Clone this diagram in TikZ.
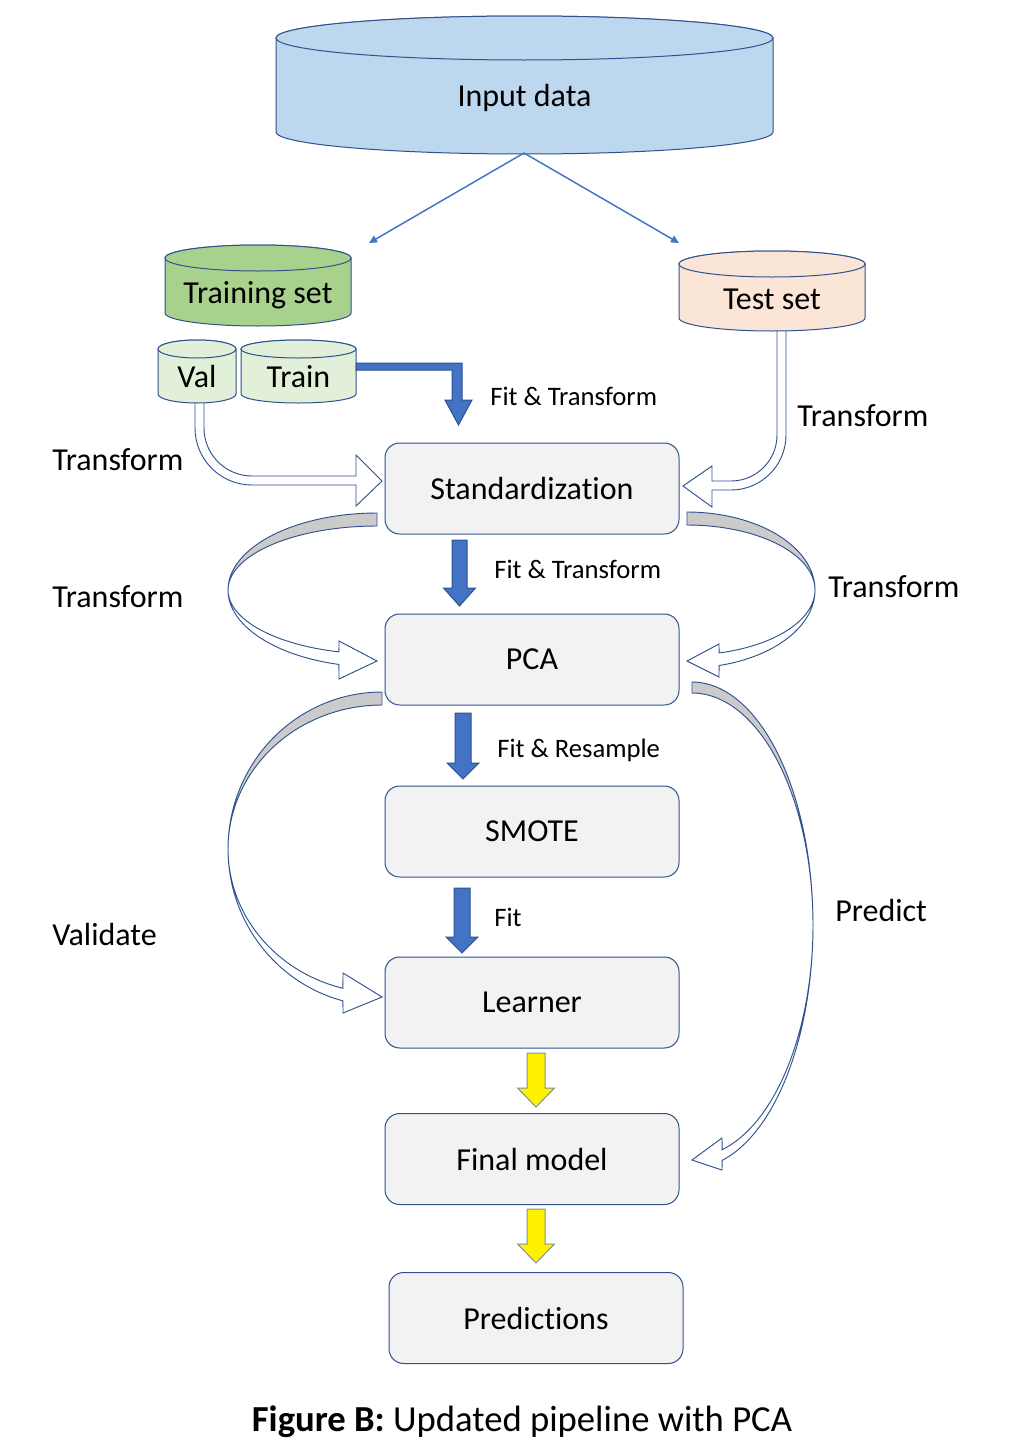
\documentclass[tikz,border=0pt]{standalone}
\usepackage{fontspec}
\setmainfont[Ligatures={NoCommon,NoContextual}]{Carlito}
\usetikzlibrary{arrows.meta}
\definecolor{inputfill}{HTML}{BDD7EE}
\definecolor{trainfill}{HTML}{A9D18E}
\definecolor{testfill}{HTML}{FBE5D6}
\definecolor{subfill}{HTML}{E2F0D9}
\definecolor{boxfill}{HTML}{F2F2F2}
\definecolor{outl}{HTML}{2F528F}
\definecolor{arrblue}{HTML}{4472C4}
\definecolor{bandgray}{HTML}{CBCBCB}
\definecolor{yelborder}{HTML}{7F8FA6}
\newcommand\cylshape[6]{%
  \filldraw[#1] (#2,#4) -- (#2,#5) arc[start angle=180,end angle=360,x radius={(#3-#2)*0.375pt},y radius={#6*0.75pt}] -- (#3,#4) arc[start angle=0,end angle=180,x radius={(#3-#2)*0.375pt},y radius={#6*0.75pt}] -- cycle;
  \filldraw[#1] ({(#2+#3)/2},#4) ellipse[x radius={(#3-#2)*0.375pt},y radius={#6*0.75pt}];
}
\newcommand\blockdown[7]{%
  \filldraw[#1] ({#2-#6},#3) -- ({#2+#6},#3) -- ({#2+#6},#4) -- ({#2+#7},#4) -- (#2,#5) -- ({#2-#7},#4) -- ({#2-#6},#4) -- cycle;
}
\begin{document}
\begin{tikzpicture}[x=0.75pt,y=-0.75pt,
  bigtxt/.style={font=\fontsize{24}{28}\selectfont, inner sep=0pt},
  smalltxt/.style={font=\fontsize{20}{24}\selectfont, inner sep=0pt},
  box/.style={draw=outl, line width=0.75pt, fill=boxfill, rounded corners=11pt,
    minimum width=220.5pt, minimum height=68.25pt, inner sep=0pt, font=\fontsize{24}{28}\selectfont},
  cylstyle/.style={draw=outl, line width=0.75pt, fill=#1},
  hollow/.style={draw=outl, line width=0.7pt, fill=white, line join=miter},
  band/.style={draw=outl, line width=0.7pt, fill=bandgray},
  bluearr/.style={draw=outl, line width=0.75pt, fill=arrblue},
  yelarr/.style={draw=yelborder, line width=0.75pt, fill=yellow},
  thinblue/.style={draw=arrblue, line width=1.1pt, -{Triangle[length=6pt,width=5.5pt]}}
]
\fill[white] (0,0) rectangle (1034,1456);
\useasboundingbox (0,0) rectangle (1034,1456);

% hollow arrow from Val to Standardization
\filldraw[hollow] (195,392) -- (195,428) arc[start angle=180,end angle=270,radius=42.75pt]
  -- (356,485) -- (356,506) -- (382,481) -- (356,455) -- (356,476) -- (252,476)
  arc[start angle=270,end angle=180,radius=36pt] -- (204,392) -- cycle;
% hollow arrow from Test set to Standardization
\filldraw[hollow] (777,322) -- (777,435) arc[start angle=0,end angle=-90,radius=34.5pt]
  -- (712,481) -- (712,466) -- (683,486) -- (712,507) -- (712,490) -- (731,490)
  arc[start angle=-90,end angle=0,radius=41.25pt] -- (786,322) -- cycle;

% cylinders
\cylshape{cylstyle=inputfill}{276}{773}{38}{132}{22}
\node[bigtxt, anchor=base] (input) at (524.5,106) {Input data};
\cylshape{cylstyle=trainfill}{165}{351}{258}{313}{13}
\node[bigtxt, anchor=base] (trainset) at (258,303) {Training set};
\cylshape{cylstyle=testfill}{679}{865}{264}{318}{13}
\node[bigtxt, anchor=base] (testset) at (772,309) {Test set};
\cylshape{cylstyle=subfill}{158}{236}{349}{394}{9}
\node[bigtxt, anchor=base] (val) at (197,387) {Val};
\cylshape{cylstyle=subfill}{241}{356}{349}{394}{9}
\node[bigtxt, anchor=base] (train) at (298.5,387) {Train};

% split arrows
\coordinate (inbot) at (524,153);
\coordinate (lend) at (369,243);
\coordinate (rend) at (679,243);
\draw[thinblue] (inbot) -- (lend);
\draw[thinblue] (inbot) -- (rend);

% bent blue arrow from Train
\filldraw[bluearr] (356,363) -- (462,363) -- (462,400) -- (472,400) -- (458.5,425) -- (445,400) -- (452,400) -- (452,370) -- (356,370) -- cycle;

% boxes
\node[box] (std) at (532,488.5) {Standardization};
\node[box] (pca) at (532,659.5) {PCA};
\node[box] (smote) at (532,831.5) {SMOTE};
\node[box] (learner) at (532,1002.5) {Learner};
\node[box] (final) at (532,1159) {Final model};
\node[box] (pred) at (536,1318) {Predictions};

% straight block arrows
\blockdown{bluearr}{459.5}{540}{588}{606}{7.5}{16}
\blockdown{bluearr}{463}{713}{763}{779}{8}{16}
\blockdown{bluearr}{462}{888}{937}{953}{8}{16}
\blockdown{yelarr}{536}{1053}{1088}{1107}{9}{18.5}
\blockdown{yelarr}{536}{1209}{1244}{1263}{9}{18.5}

% curved arrow A (left, Standardization -> PCA)
\filldraw[band] plot[domain=270:180,samples=40,variable=\t] ({377+149*cos(\t)},{590+77*sin(\t)})
  -- plot[domain=180:270,samples=40,variable=\t] ({377+149*cos(\t)},{590+64*sin(\t)}) -- cycle;
\filldraw[hollow] plot[domain=180:104.8,samples=40,variable=\t] ({377+149*cos(\t)},{590+77*sin(\t)})
  -- (339,679) -- (377,661) -- (339,641)
  -- plot[domain=104.8:180,samples=40,variable=\t] ({377+149*cos(\t)},{590+64*sin(\t)}) -- cycle;

% curved arrow B (right, Standardization -> PCA)
\filldraw[band] plot[domain=-90:0,samples=40,variable=\t] ({687+128*cos(\t)},{590+78*sin(\t)})
  -- plot[domain=0:-90,samples=40,variable=\t] ({687+128*cos(\t)},{590+65*sin(\t)}) -- cycle;
\filldraw[hollow] plot[domain=0:75.5,samples=40,variable=\t] ({687+128*cos(\t)},{590+78*sin(\t)})
  -- (719,677) -- (687,661) -- (719,644)
  -- plot[domain=75.5:0,samples=40,variable=\t] ({687+128*cos(\t)},{590+65*sin(\t)}) -- cycle;

% curved arrow C (left, PCA -> Learner)
\filldraw[band] plot[domain=270:180,samples=50,variable=\t] ({382+154*cos(\t)},{849+157*sin(\t)})
  -- plot[domain=180:270,samples=50,variable=\t] ({382+154*cos(\t)},{849+144*sin(\t)}) -- cycle;
\filldraw[hollow] plot[domain=180:104.7,samples=50,variable=\t] ({382+154*cos(\t)},{849+157*sin(\t)})
  -- (343,1013) -- (382,997) -- (343,973)
  -- plot[domain=104.7:180,samples=50,variable=\t] ({382+154*cos(\t)},{849+144*sin(\t)}) -- cycle;

% curved arrow D (right, PCA -> Final model)
\filldraw[band] plot[domain=-90:0,samples=60,variable=\t] ({692+121*cos(\t)},{925+243*sin(\t)})
  -- plot[domain=0:-90,samples=60,variable=\t] ({692+121*cos(\t)},{925+232*sin(\t)}) -- cycle;
\filldraw[hollow] plot[domain=0:75.6,samples=60,variable=\t] ({692+121*cos(\t)},{925+243*sin(\t)})
  -- (722,1170) -- (692,1160) -- (722,1138)
  -- plot[domain=75.6:0,samples=60,variable=\t] ({692+121*cos(\t)},{925+232*sin(\t)}) -- cycle;

% labels
\node[smalltxt, anchor=base west] (l1) at (490,405) {Fit \& Transform};
\node[bigtxt, anchor=base west] (l2) at (797,426) {Transform};
\node[bigtxt, anchor=base west] (l3) at (52,470) {Transform};
\node[smalltxt, anchor=base west] (l4) at (494,578) {Fit \& Transform};
\node[bigtxt, anchor=base west] (l5) at (52,607) {Transform};
\node[bigtxt, anchor=base west] (l6) at (828,597) {Transform};
\node[smalltxt, anchor=base west] (l7) at (497,757) {Fit \& Resample};
\node[bigtxt, anchor=base west] (l8) at (52,945) {Validate};
\node[bigtxt, anchor=base west] (l9) at (835,921) {Predict};
\node[smalltxt, anchor=base west] (l10) at (494,926) {Fit};
\node[font=\fontsize{27.5}{32}\selectfont, inner sep=0pt, anchor=base] (cap) at (522,1431) {\textbf{Figure B:} Updated pipeline with PCA};
\end{tikzpicture}
\end{document}
